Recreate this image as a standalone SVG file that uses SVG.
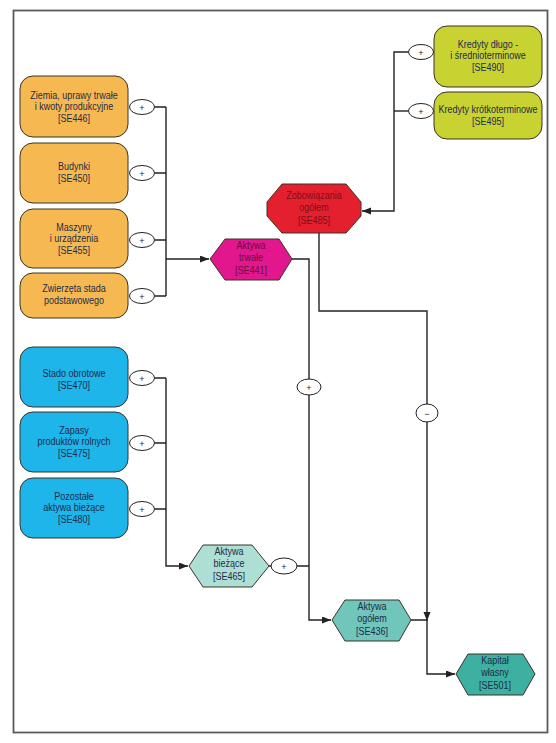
<svg xmlns="http://www.w3.org/2000/svg" width="556" height="743" viewBox="0 0 556 743">
<style>
.t{font-family:"Liberation Sans",Arial,sans-serif;font-size:11px;fill:#1e2b4a;text-anchor:middle}
.nd{stroke:#3a3326;stroke-width:1}
.conn{fill:none;stroke:#222;stroke-width:1.4}
.op{fill:#fff;stroke:#222;stroke-width:1}
.opt{font-family:"Liberation Sans",Arial,sans-serif;font-size:9px;fill:#222;text-anchor:middle}
.or{fill:#F6B952}
.bl{fill:#1DB5EA}
.yg{fill:#C8D230}
</style>
<defs>
<marker id="ar" markerUnits="userSpaceOnUse" markerWidth="10" markerHeight="8" refX="9" refY="3.5" orient="auto">
<path d="M0,0 L9,3.5 L0,7 z" fill="#222"/>
</marker>
</defs>
<rect x="13.5" y="10.5" width="534" height="722" fill="#fff" stroke="#5a5a5a" stroke-width="1.8"/>

<g id="connectors">
<path class="conn" d="M154.5,107 H166 M154.5,173 H166 M154.5,240 H166 M154.5,296 H166 M166,107 V296"/>
<path class="conn" d="M166,259 H209" marker-end="url(#ar)"/>
<path class="conn" d="M154.5,378 H166 M154.5,443 H166 M154.5,509 H166"/>
<path class="conn" d="M166,378 V566 H188" marker-end="url(#ar)"/>
<path class="conn" d="M292,259 H309 V620 H331" marker-end="url(#ar)"/>
<path class="conn" d="M269,566 H271 M297,566 H309"/>
<path class="conn" d="M408.5,111 H394"/>
<path class="conn" d="M408.5,52 H394 V211 H362" marker-end="url(#ar)"/>
<path class="conn" d="M319,233 V311 H427 V621" marker-end="url(#ar)"/>
<path class="conn" d="M411,620 H427 M427,620 V674 H455" marker-end="url(#ar)"/>
<ellipse class="op" cx="142" cy="107" rx="12.5" ry="7.5"/><text class="opt" x="142" y="110.5">+</text>
<ellipse class="op" cx="142" cy="173" rx="12.5" ry="7.5"/><text class="opt" x="142" y="176.5">+</text>
<ellipse class="op" cx="142" cy="240" rx="12.5" ry="7.5"/><text class="opt" x="142" y="243.5">+</text>
<ellipse class="op" cx="142" cy="296" rx="12.5" ry="7.5"/><text class="opt" x="142" y="299.5">+</text>
<ellipse class="op" cx="142" cy="378" rx="12.5" ry="7.5"/><text class="opt" x="142" y="381.5">+</text>
<ellipse class="op" cx="142" cy="443" rx="12.5" ry="7.5"/><text class="opt" x="142" y="446.5">+</text>
<ellipse class="op" cx="142" cy="509" rx="12.5" ry="7.5"/><text class="opt" x="142" y="512.5">+</text>
<ellipse class="op" cx="421" cy="52" rx="12.5" ry="7.5"/><text class="opt" x="421" y="55.5">+</text>
<ellipse class="op" cx="421" cy="111" rx="12.5" ry="7.5"/><text class="opt" x="421" y="114.5">+</text>
<ellipse class="op" cx="309" cy="387" rx="12" ry="8"/><text class="opt" x="309" y="390.5">+</text>
<ellipse class="op" cx="284" cy="566" rx="13" ry="8"/><text class="opt" x="284" y="569.5">+</text>
<ellipse class="op" cx="427" cy="413" rx="11" ry="9"/><text class="opt" x="427" y="416.5">−</text>
</g>

<g id="n-se446">
<rect class="nd or" x="20" y="76" width="108" height="61" rx="13"/>
<text class="t" transform="translate(74 0) scale(0.82 1)"><tspan x="0" y="99">Ziemia, uprawy trwałe</tspan><tspan x="0" y="110.5">i kwoty produkcyjne</tspan><tspan x="0" y="122">[SE446]</tspan></text>
</g>
<g id="n-se450">
<rect class="nd or" x="20" y="143" width="108" height="60" rx="13"/>
<text class="t" transform="translate(74 0) scale(0.82 1)"><tspan x="0" y="170">Budynki</tspan><tspan x="0" y="182">[SE450]</tspan></text>
</g>
<g id="n-se455">
<rect class="nd or" x="20" y="209" width="108" height="59" rx="13"/>
<text class="t" transform="translate(74 0) scale(0.82 1)"><tspan x="0" y="231">Maszyny</tspan><tspan x="0" y="242.5">i urządzenia</tspan><tspan x="0" y="254">[SE455]</tspan></text>
</g>
<g id="n-zwierzeta">
<rect class="nd or" x="20" y="273" width="108" height="45" rx="13"/>
<text class="t" transform="translate(74 0) scale(0.82 1)"><tspan x="0" y="292">Zwierzęta stada</tspan><tspan x="0" y="304">podstawowego</tspan></text>
</g>

<g id="n-se470">
<rect class="nd bl" x="20" y="347" width="108" height="60" rx="13"/>
<text class="t" transform="translate(74 0) scale(0.82 1)"><tspan x="0" y="377">Stado obrotowe</tspan><tspan x="0" y="389">[SE470]</tspan></text>
</g>
<g id="n-se475">
<rect class="nd bl" x="20" y="412" width="108" height="60" rx="13"/>
<text class="t" transform="translate(74 0) scale(0.82 1)"><tspan x="0" y="434">Zapasy</tspan><tspan x="0" y="445.5">produktów rolnych</tspan><tspan x="0" y="457">[SE475]</tspan></text>
</g>
<g id="n-se480">
<rect class="nd bl" x="20" y="478" width="108" height="60" rx="13"/>
<text class="t" transform="translate(74 0) scale(0.82 1)"><tspan x="0" y="500">Pozostałe</tspan><tspan x="0" y="511.5">aktywa bieżące</tspan><tspan x="0" y="523">[SE480]</tspan></text>
</g>

<g id="n-se490">
<rect class="nd yg" x="434" y="26" width="108" height="61" rx="13"/>
<text class="t" transform="translate(488 0) scale(0.82 1)"><tspan x="0" y="48">Kredyty długo -</tspan><tspan x="0" y="59.5">i średnioterminowe</tspan><tspan x="0" y="71">[SE490]</tspan></text>
</g>
<g id="n-se495">
<rect class="nd yg" x="434" y="92" width="108" height="47" rx="13"/>
<text class="t" transform="translate(488 0) scale(0.82 1)"><tspan x="0" y="113">Kredyty krótkoterminowe</tspan><tspan x="0" y="125">[SE495]</tspan></text>
</g>

<g id="n-se485">
<polygon class="nd" fill="#E5202E" points="282,184 346,184 361,202 361,216 346,233 282,233 267,216 267,202"/>
<text class="t" style="fill:#7a0f18" transform="translate(314 0) scale(0.82 1)"><tspan x="0" y="199">Zobowiązania</tspan><tspan x="0" y="211.5">ogółem</tspan><tspan x="0" y="224">[SE485]</tspan></text>
</g>
<g id="n-se441">
<polygon class="nd" fill="#E2178D" points="225,239 279,239 292,259 279,280 225,280 210,259"/>
<text class="t" style="fill:#6a0c45" transform="translate(251 0) scale(0.82 1)"><tspan x="0" y="249">Aktywa</tspan><tspan x="0" y="261.5">trwałe</tspan><tspan x="0" y="274">[SE441]</tspan></text>
</g>
<g id="n-se465">
<polygon class="nd" fill="#AEDFD5" points="203,545 252,545 269,566 252,587 203,587 189,566"/>
<text class="t" transform="translate(229 0) scale(0.82 1)"><tspan x="0" y="555">Aktywa</tspan><tspan x="0" y="567.5">bieżące</tspan><tspan x="0" y="580">[SE465]</tspan></text>
</g>
<g id="n-se436">
<polygon class="nd" fill="#70C6BA" points="345,600 399,600 411,620 399,641 345,641 332,620"/>
<text class="t" transform="translate(372 0) scale(0.82 1)"><tspan x="0" y="610">Aktywa</tspan><tspan x="0" y="622.5">ogółem</tspan><tspan x="0" y="635">[SE436]</tspan></text>
</g>
<g id="n-se501">
<polygon class="nd" fill="#3DB0A1" points="468,654 523,654 535,674 523,695 468,695 456,674"/>
<text class="t" transform="translate(495 0) scale(0.82 1)"><tspan x="0" y="664">Kapitał</tspan><tspan x="0" y="676.5">własny</tspan><tspan x="0" y="689">[SE501]</tspan></text>
</g>
</svg>
